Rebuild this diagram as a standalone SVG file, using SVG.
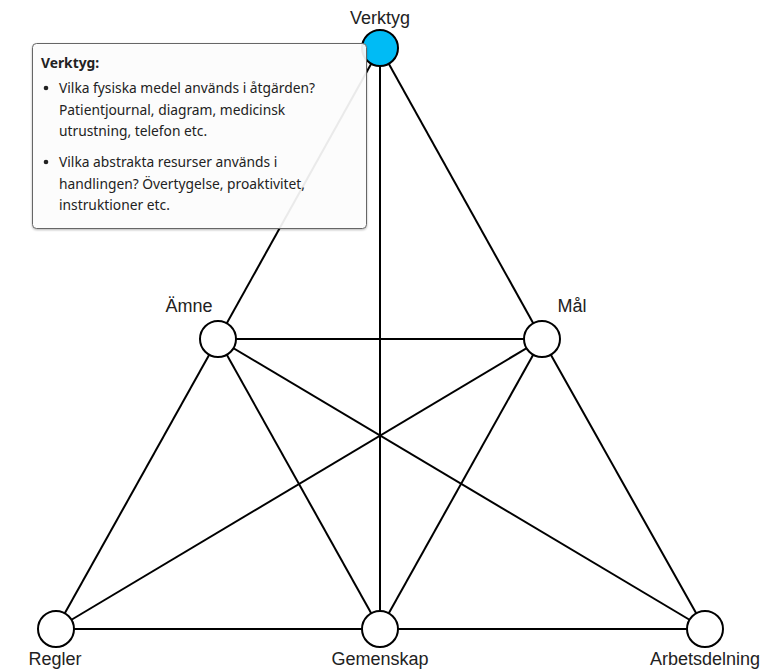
<svg xmlns="http://www.w3.org/2000/svg" width="773" height="669" viewBox="0 0 773 669">
  <style>
    .edge { stroke: #000; stroke-width: 2; fill: none; }
    .node { fill: #fff; stroke: #000; stroke-width: 2; }
    .node.active { fill: #00bbf5; }
    .label { font-family: "Liberation Sans", Arial, sans-serif; font-size: 18px; fill: #222; text-anchor: middle; }
    .tip-box { fill: #fff; fill-opacity: 0.9; stroke: #666; stroke-width: 1; }
    .tip { font-family: "Segoe UI", "Noto Sans", "Open Sans", sans-serif; font-size: 13.8px; fill: #222; }
    .tip-title { font-weight: bold; }
  </style>
  <defs>
    <filter id="shadow" x="-10%" y="-10%" width="120%" height="120%">
      <feDropShadow dx="0" dy="1" stdDeviation="1.2" flood-color="#000" flood-opacity="0.3"/>
    </filter>
  </defs>

  <rect width="773" height="669" fill="#fff"/>

  <!-- connectors: every pair of the six elements except the outer-corner pairs -->
  <g id="edges">
    <line class="edge" x1="380" y1="48" x2="218" y2="339"/>
    <line class="edge" x1="380" y1="48" x2="542" y2="339"/>
    <line class="edge" x1="380" y1="48" x2="380" y2="629"/>
    <line class="edge" x1="218" y1="339" x2="542" y2="339"/>
    <line class="edge" x1="218" y1="339" x2="56" y2="629"/>
    <line class="edge" x1="218" y1="339" x2="380" y2="629"/>
    <line class="edge" x1="218" y1="339" x2="705" y2="629"/>
    <line class="edge" x1="542" y1="339" x2="56" y2="629"/>
    <line class="edge" x1="542" y1="339" x2="380" y2="629"/>
    <line class="edge" x1="542" y1="339" x2="705" y2="629"/>
    <line class="edge" x1="56" y1="629" x2="705" y2="629"/>
  </g>

  <g id="node-verktyg">
    <circle class="node active" cx="380" cy="48" r="18"/>
    <text class="label" x="380" y="24">Verktyg</text>
  </g>
  <g id="node-amne">
    <circle class="node" cx="218" cy="339" r="18"/>
    <text class="label" x="189" y="312">Ämne</text>
  </g>
  <g id="node-mal">
    <circle class="node" cx="542" cy="339" r="18"/>
    <text class="label" x="572" y="312">Mål</text>
  </g>
  <g id="node-regler">
    <circle class="node" cx="56" cy="629" r="18"/>
    <text class="label" x="55" y="665">Regler</text>
  </g>
  <g id="node-gemenskap">
    <circle class="node" cx="380" cy="629" r="18"/>
    <text class="label" x="380" y="665">Gemenskap</text>
  </g>
  <g id="node-arbetsdelning">
    <circle class="node" cx="705" cy="629" r="18"/>
    <text class="label" x="705" y="665">Arbetsdelning</text>
  </g>

  <!-- hover tooltip for the selected element -->
  <g id="tooltip">
    <rect class="tip-box" x="32.5" y="43.5" width="334" height="185" rx="4" filter="url(#shadow)"/>
    <text class="tip tip-title" x="41" y="68">Verktyg:</text>
    <circle cx="46" cy="88" r="2.3" fill="#222"/>
    <text class="tip" x="59" y="93">Vilka fysiska medel används i åtgärden?</text>
    <text class="tip" x="59" y="114.5">Patientjournal, diagram, medicinsk</text>
    <text class="tip" x="59" y="136">utrustning, telefon etc.</text>
    <circle cx="46" cy="162" r="2.3" fill="#222"/>
    <text class="tip" x="59" y="167">Vilka abstrakta resurser används i</text>
    <text class="tip" x="59" y="188.5">handlingen? Övertygelse, proaktivitet,</text>
    <text class="tip" x="59" y="210">instruktioner etc.</text>
  </g>
</svg>
